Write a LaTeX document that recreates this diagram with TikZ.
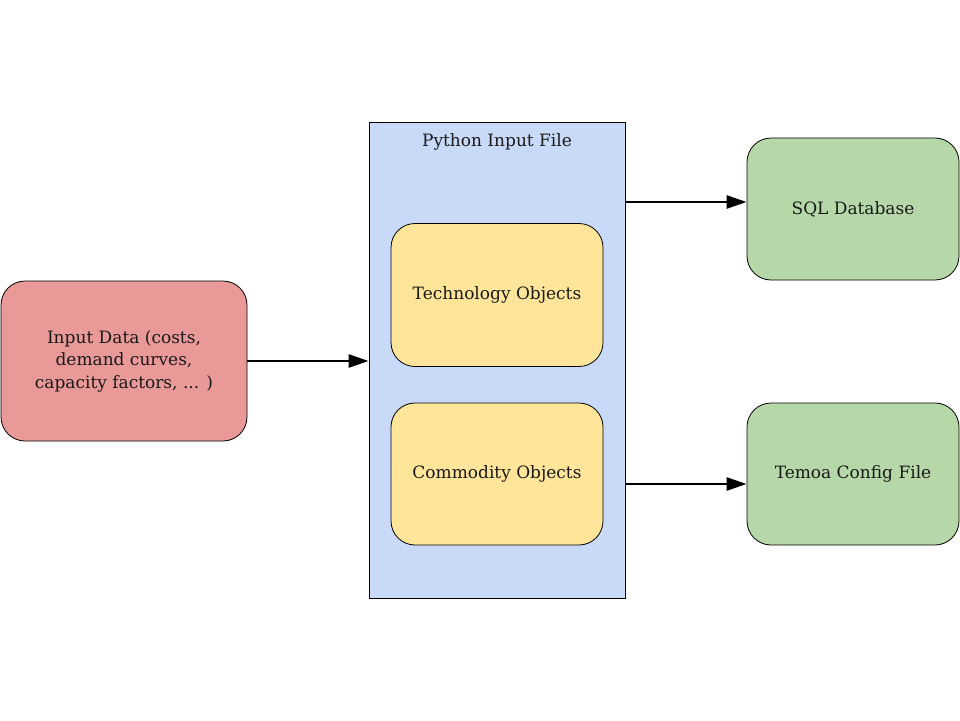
\documentclass[tikz,border=0pt]{standalone}
\usepackage{fontspec}
\setmainfont{DejaVu Serif}
\usetikzlibrary{arrows.meta}
\definecolor{cred}{HTML}{EA9999}
\definecolor{cblue}{HTML}{C9DAF8}
\definecolor{cyellow}{HTML}{FFE599}
\definecolor{cgreen}{HTML}{B6D7A8}
\begin{document}
\begin{tikzpicture}[x=1pt,y=-1pt,
  box/.style={draw=black,line width=0.8pt,rounded corners=24pt,align=center,inner sep=0pt,
    font=\fontsize{17}{22.5}\selectfont,text=black!90},
  arr/.style={line width=2.6pt,-{Triangle[length=20pt,width=13pt]}}]
\useasboundingbox (0,0) rectangle (960,720);
\node[box,fill=cred,minimum width=246pt,minimum height=160pt] (inp) at (124,361)
  {Input Data (costs,\\demand curves,\\capacity factors, ... )};
\node[draw=black,line width=0.8pt,fill=cblue,minimum width=256pt,minimum height=476pt,inner sep=0pt] (py) at (497,360) {};
\node[font=\fontsize{17}{20}\selectfont,text=black!90] (pyt) at (497,142) {Python Input File};
\node[box,fill=cyellow,minimum width=212pt,minimum height=143pt] (tech) at (497,295) {Technology Objects};
\node[box,fill=cyellow,minimum width=212pt,minimum height=142pt] (comm) at (497,474) {Commodity Objects};
\node[box,fill=cgreen,minimum width=212pt,minimum height=142pt] (sql) at (853,209) {SQL Database};
\node[box,fill=cgreen,minimum width=212pt,minimum height=142pt] (tem) at (853,474) {Temoa Config File};
\draw[arr] (inp.east) -- (inp.east -| py.west);
\draw[arr] ([yshift=7pt]sql.west -| py.east) -- ([yshift=7pt]sql.west);
\draw[arr] ([yshift=-10pt]tem.west -| py.east) -- ([yshift=-10pt]tem.west);
\end{tikzpicture}
\end{document}
